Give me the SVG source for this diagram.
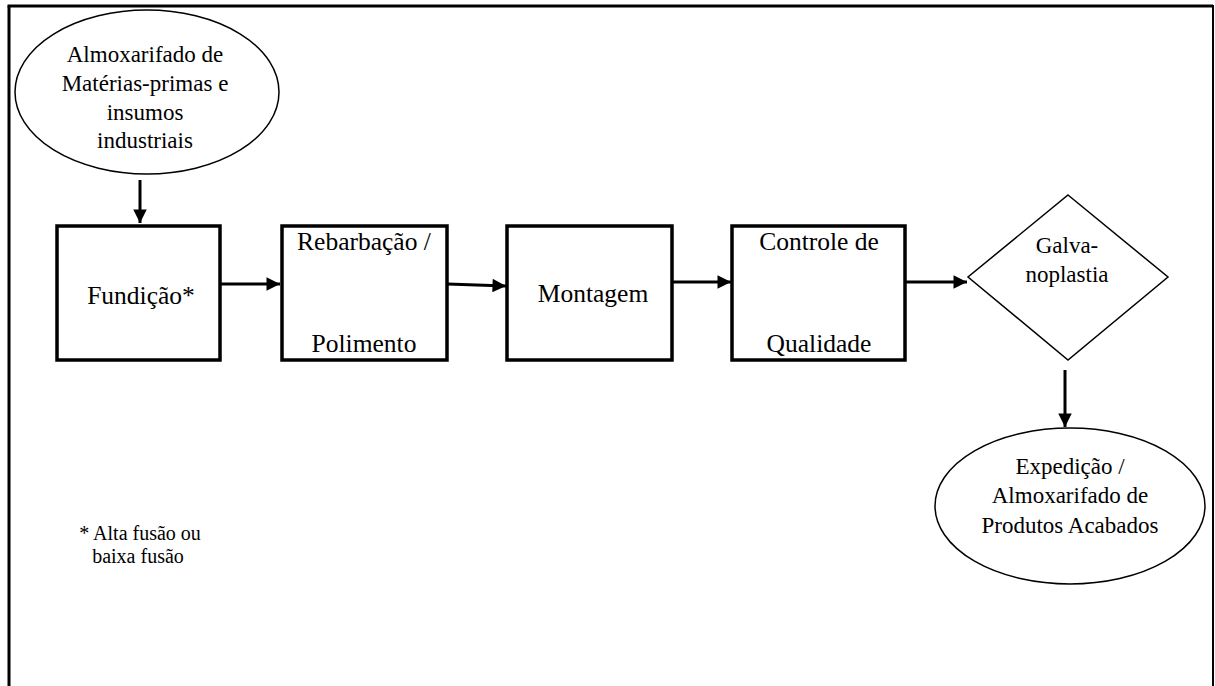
<svg xmlns="http://www.w3.org/2000/svg" width="1215" height="686" viewBox="0 0 1215 686">
<defs>
<style>
text{font-family:'Liberation Serif','Tinos','Times New Roman','DejaVu Serif',serif;fill:#000;text-anchor:middle}
.s23{font-size:23px}
.s25{font-size:25.5px}
.s20{font-size:20px}
.box{fill:#fff;stroke:#000;stroke-width:3.5}
.thin{fill:#fff;stroke:#000;stroke-width:1.5}
.con{stroke:#000;stroke-width:3;fill:none}
</style>
<marker id="ah" viewBox="0 0 10 10" refX="10" refY="5" markerWidth="5" markerHeight="4.5" markerUnits="strokeWidth" orient="auto">
<path d="M0,0 L10,5 L0,10 Z" fill="#000"/>
</marker>
</defs>
<rect width="1215" height="686" fill="#fff"/>
<g id="frame">
<line x1="9" y1="686" x2="9" y2="6" stroke="#000" stroke-width="3"/>
<line x1="7.5" y1="6" x2="1213" y2="6" stroke="#000" stroke-width="3"/>
<line x1="1213" y1="5" x2="1213" y2="686" stroke="#000" stroke-width="2"/>
</g>
<g id="connectors">
<line class="con" x1="140" y1="180" x2="140" y2="223" marker-end="url(#ah)"/>
<line class="con" x1="220" y1="284" x2="280" y2="284" marker-end="url(#ah)"/>
<line class="con" x1="447" y1="284" x2="506" y2="286" marker-end="url(#ah)"/>
<line class="con" x1="669" y1="282" x2="731" y2="282" marker-end="url(#ah)"/>
<line class="con" x1="905" y1="282" x2="967" y2="282" marker-end="url(#ah)"/>
<line class="con" x1="1065" y1="370" x2="1065" y2="427" marker-end="url(#ah)"/>
</g>
<g id="n-almox">
<ellipse class="thin" cx="147" cy="92" rx="132" ry="82"/>
<text class="s23" font-family="Liberation Serif, serif" x="145" y="62">Almoxarifado de</text>
<text class="s23" font-family="Liberation Serif, serif" x="145" y="91">Matérias-primas e</text>
<text class="s23" font-family="Liberation Serif, serif" x="145" y="120">insumos</text>
<text class="s23" font-family="Liberation Serif, serif" x="145" y="148">industriais</text>
</g>
<g id="n-fundicao">
<rect class="box" x="57" y="226" width="163" height="134"/>
<text class="s25" font-family="Liberation Serif, serif" x="141" y="304">Fundição*</text>
</g>
<g id="n-rebarbacao">
<rect class="box" x="282" y="226" width="165" height="134"/>
<text class="s25" font-family="Liberation Serif, serif" x="364" y="250">Rebarbação /</text>
<text class="s25" font-family="Liberation Serif, serif" x="364" y="352">Polimento</text>
</g>
<g id="n-montagem">
<rect class="box" x="507" y="226" width="165" height="134"/>
<text class="s25" font-family="Liberation Serif, serif" x="593" y="302">Montagem</text>
</g>
<g id="n-controle">
<rect class="box" x="732" y="226" width="173" height="134"/>
<text class="s25" font-family="Liberation Serif, serif" x="819" y="250">Controle de</text>
<text class="s25" font-family="Liberation Serif, serif" x="819" y="352">Qualidade</text>
</g>
<g id="n-galva">
<polygon class="thin" points="1068,195 1168,277 1068,360 968,277"/>
<text class="s23" font-family="Liberation Serif, serif" x="1067" y="253">Galva-</text>
<text class="s23" font-family="Liberation Serif, serif" x="1067" y="282">noplastia</text>
</g>
<g id="n-expedicao">
<ellipse class="thin" cx="1070" cy="506" rx="135" ry="78"/>
<text class="s23" font-family="Liberation Serif, serif" x="1070" y="474">Expedição /</text>
<text class="s23" font-family="Liberation Serif, serif" x="1070" y="503">Almoxarifado de</text>
<text class="s23" font-family="Liberation Serif, serif" x="1070" y="533">Produtos Acabados</text>
</g>
<g id="footnote">
<text class="s20" font-family="Liberation Serif, serif" x="140" y="540">* Alta fusão ou</text>
<text class="s20" font-family="Liberation Serif, serif" x="138" y="563">baixa fusão</text>
</g>
</svg>
